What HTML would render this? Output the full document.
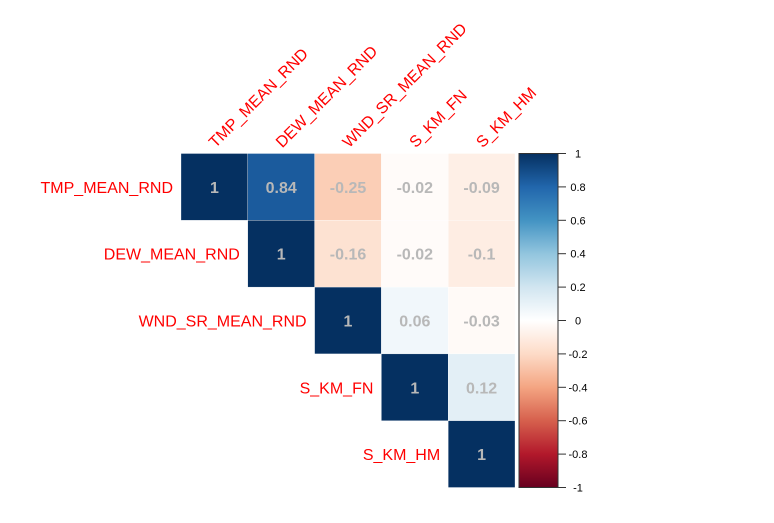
<!DOCTYPE html>
<html><head><meta charset="utf-8"><style>body{margin:0;background:#fff}svg{display:block}</style></head>
<body>
<svg id="c" width="774" height="523" xmlns="http://www.w3.org/2000/svg"></svg>
<script>
const vars = ["TMP_MEAN_RND","DEW_MEAN_RND","WND_SR_MEAN_RND","S_KM_FN","S_KM_HM"];
const corr = [
 [1,0.84,-0.25,-0.02,-0.09],
 [0.84,1,-0.16,-0.02,-0.1],
 [-0.25,-0.16,1,0.06,-0.03],
 [-0.02,-0.02,0.06,1,0.12],
 [-0.09,-0.1,-0.03,0.12,1]
];
const legendTicks = [1,0.8,0.6,0.4,0.2,0,-0.2,-0.4,-0.6,-0.8,-1];
const NS="http://www.w3.org/2000/svg", svg=document.getElementById('c');
const x0=181, y0=153.5, cs=66.8;
const pal=[[103,0,31],[178,24,43],[214,96,77],[244,165,130],[253,219,199],[255,255,255],[209,229,240],[146,197,222],[67,147,195],[33,102,172],[5,48,97]];
function col(v){const t=(v+1)*5;let i=Math.min(9,Math.floor(t));const f=t-i;const a=pal[i],b=pal[i+1];
 return `rgb(${a.map((c,k)=>Math.round(c+(b[k]-c)*f)).join(',')})`;}
function el(tag,at,txt){const e=document.createElementNS(NS,tag);for(const k in at)e.setAttribute(k,at[k]);if(txt!==undefined)e.textContent=txt;svg.appendChild(e);return e;}
const xs=j=>x0+j*cs, ys=i=>y0+i*cs;
for(let i=0;i<vars.length;i++){
 for(let j=i;j<vars.length;j++){
  const r=el('rect',{x:xs(j),y:ys(i),width:cs,height:cs,fill:col(corr[i][j]),stroke:'#fff','stroke-width':0.3});
  
  
  const t=el('text',{x:xs(j)+cs/2,y:ys(i)+cs/2+6,'text-anchor':'middle','font-family':'Liberation Sans, sans-serif','font-size':16,'font-weight':'bold',fill:'#b8b8b8'},String(corr[i][j]));
  
  
 }
 const rl=el('text',{x:xs(i)-8,y:ys(i)+cs/2+6,'text-anchor':'end','font-family':'Liberation Sans, sans-serif','font-size':16,fill:'#ff0000'},vars[i]);
 
 
 const cx=xs(i)+cs/2+1, cy=y0-5;
 const cl=el('text',{x:cx,y:cy,transform:`rotate(-45 ${cx} ${cy})`,'font-family':'Liberation Sans, sans-serif','font-size':16,fill:'#ff0000'},vars[i]);
 
 
}
const lx=519,lw=39,ly0=y0,ly1=487.5;
const defs=el('defs',{});const g=document.createElementNS(NS,'linearGradient');g.setAttribute('id','gr');g.setAttribute('x1',0);g.setAttribute('y1',1);g.setAttribute('x2',0);g.setAttribute('y2',0);defs.appendChild(g);
pal.forEach((c,k)=>{const s=document.createElementNS(NS,'stop');s.setAttribute('offset',k/10);s.setAttribute('stop-color',`rgb(${c.join(',')})`);g.appendChild(s);});
const lb=el('rect',{x:lx,y:ly0,width:lw,height:ly1-ly0,fill:'url(#gr)',stroke:'#333','stroke-width':1});


const ly=v=>ly1-(v+1)/2*(ly1-ly0);
legendTicks.forEach(v=>{
 const tk=el('line',{x1:lx+lw,x2:lx+lw+8,y1:ly(v),y2:ly(v),stroke:'#333','stroke-width':1});
 
 
 const tl=el('text',{x:578,y:ly(v)+4,'text-anchor':'middle','font-family':'Liberation Sans, sans-serif','font-size':11,fill:'#000'},String(v));
 
 
});
</script>
</body></html>
